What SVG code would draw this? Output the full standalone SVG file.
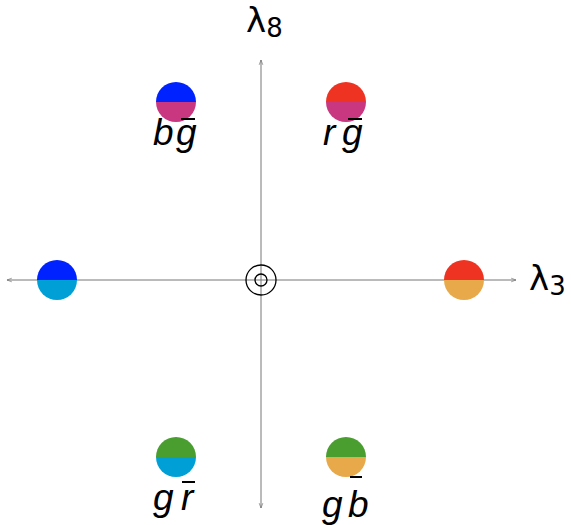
<svg xmlns="http://www.w3.org/2000/svg" width="571" height="525" viewBox="0 0 571 525">
<defs>
<style>
.ax{stroke:#777;stroke-width:1;fill:none}
.lbl{font-family:"Liberation Sans","DejaVu Sans",sans-serif;font-style:italic;font-size:37px;fill:#000}
.lam{font-family:"DejaVu Sans","Liberation Sans",sans-serif;font-size:34px;fill:#000}
.bar{stroke:#000;stroke-width:2}
</style>
<marker id="ah" viewBox="0 0 10 10" refX="9" refY="5" markerWidth="6" markerHeight="6" orient="auto"><path d="M1,2 L9,5 L1,8" fill="none" stroke="#777" stroke-width="1.2"/></marker>
</defs>
<g id="connectors">
<line class="ax" x1="261" y1="280" x2="516" y2="280" marker-end="url(#ah)"/>
<line class="ax" x1="261" y1="280" x2="7" y2="280" marker-end="url(#ah)"/>
<line class="ax" x1="261" y1="280" x2="261" y2="60" marker-end="url(#ah)"/>
<line class="ax" x1="261" y1="280" x2="261" y2="508" marker-end="url(#ah)"/>
</g>
<g id="origin" fill="none" stroke="#000" stroke-width="1.3">
<circle cx="261" cy="280" r="15"/>
<circle cx="261" cy="280" r="6"/>
</g>
<g id="lambda8"><text class="lam" x="246" y="32">λ<tspan font-size="26" dy="5">8</tspan></text></g>
<g id="lambda3"><text class="lam" x="529" y="290">λ<tspan font-size="26" dy="5">3</tspan></text></g>
<g id="bgbar">
<path d="M156,102 A20,20 0 0 1 196,102 Z" fill="#0022ff"/>
<path d="M156,102 A20,20 0 0 0 196,102 Z" fill="#c8377f"/>
<text class="lbl" x="153" y="145">b</text><text class="lbl" x="176" y="145">g</text>
<line class="bar" x1="181" y1="119" x2="195" y2="119"/>
</g>
<g id="rgbar">
<path d="M326,102 A20,20 0 0 1 366,102 Z" fill="#ee3322"/>
<path d="M326,102 A20,20 0 0 0 366,102 Z" fill="#c8377f"/>
<text class="lbl" x="323" y="145">r</text><text class="lbl" x="342" y="145">g</text>
<line class="bar" x1="348" y1="119" x2="362" y2="119"/>
</g>
<g id="left">
<path d="M37,280 A20,20 0 0 1 77,280 Z" fill="#0022ff"/>
<path d="M37,280 A20,20 0 0 0 77,280 Z" fill="#00a0d6"/>
</g>
<g id="right">
<path d="M444,280 A20,20 0 0 1 484,280 Z" fill="#ee3322"/>
<path d="M444,280 A20,20 0 0 0 484,280 Z" fill="#e8a94a"/>
</g>
<g id="grbar">
<path d="M156,457 A20,20 0 0 1 196,457 Z" fill="#4a9e30"/>
<path d="M156,457 A20,20 0 0 0 196,457 Z" fill="#00a0d6"/>
<text class="lbl" x="153" y="510">g</text><text class="lbl" x="181" y="510">r</text>
<line class="bar" x1="182" y1="482" x2="195" y2="482"/>
</g>
<g id="gbbar">
<path d="M326,457 A20,20 0 0 1 366,457 Z" fill="#4a9e30"/>
<path d="M326,457 A20,20 0 0 0 366,457 Z" fill="#e8a94a"/>
<text class="lbl" x="322" y="517">g</text><text class="lbl" x="348" y="517">b</text>
<line class="bar" x1="350" y1="477" x2="362" y2="477"/>
</g>
</svg>
